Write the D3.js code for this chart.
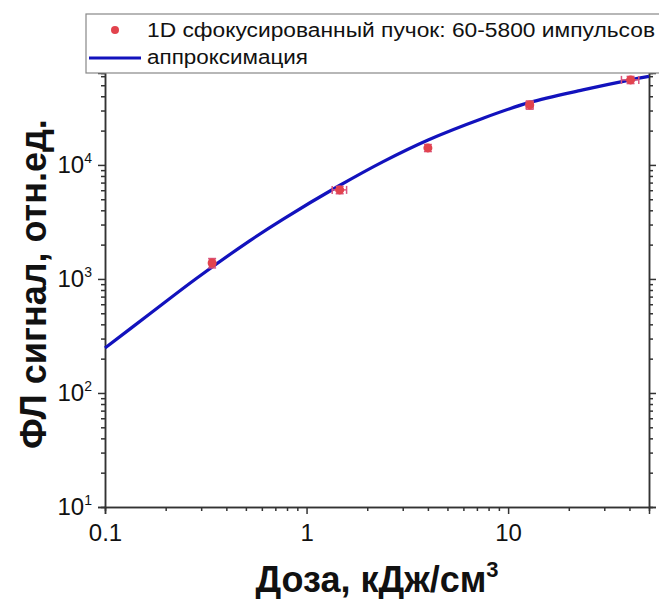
<!DOCTYPE html>
<html>
<head>
<meta charset="utf-8">
<script src="https://cdn.jsdelivr.net/npm/d3@7"></script>
<style>
  body { margin: 0; background: #fff; }
  svg { display: block; font-family: "Liberation Sans", Arial, sans-serif; }
</style>
</head>
<body>
<script>
// measured points (dose in kJ/cm3, signal in arb. units)
const pointDose   = [0.34, 1.46, 4.0, 12.8, 40.5];
const pointSignal = [1380, 6040, 14100, 33600, 55700];
const signalErr   = [130, 450, 1000, 2800, 4000];
const doseErr     = [0.01, 0.12, 0.1, 0.5, 4.0];

// fit curve
const curveDose   = [0.1, 0.167, 0.285, 0.524, 0.766, 1.435, 2.4, 4.01, 7.52, 12.7, 23.5, 40.5, 50];
const curveSignal = [248, 495, 1014, 2170, 3350, 6500, 10700, 16560, 25700, 35200, 45500, 55700, 59700];

const xTicks = [0.1, 1, 10];
const yTicks = [10, 100, 1000, 10000];

const legendLabels = ['1D сфокусированный пучок: 60-5800 импульсов', 'аппроксимация'];

const width  = 659;
const height = 599;
const margin = { top: 73, right: 10, bottom: 92, left: 105 };

const pointColor = '#e2434d';
const errColor   = '#d9557e';
const lineColor  = '#1212bd';
const axisColor  = '#333';

let svg = d3.select('body')
  .append('svg')
    .attr('width', width)
    .attr('height', height);

let xScale = d3.scaleLog()
    .domain([0.1, 50])
    .range([margin.left, width - margin.right]);

let yScale = d3.scaleLog()
    .domain([10, 64000])
    .range([height - margin.bottom, margin.top]);

// minor ticks 2..9 in each decade
function minors(scale) {
  let d = scale.domain();
  let out = [];
  for (let p = Math.floor(Math.log10(d[0])); p <= Math.ceil(Math.log10(d[1])); p++) {
    for (let k = 2; k <= 9; k++) {
      let v = k * Math.pow(10, p);
      if (v > d[0] && v < d[1]) out.push(v);
    }
  }
  return out;
}

function styleAxis(g) {
  g.select('.domain').attr('stroke', axisColor).attr('stroke-width', 1.5);
  g.selectAll('.tick line').attr('stroke', axisColor).attr('stroke-width', 1.5);
}

let x0 = height - margin.bottom;
let xr = width - margin.right;

// bottom axis
svg.append('g')
    .attr('transform', 'translate(0,' + x0 + ')')
    .call(d3.axisBottom(xScale).tickValues(minors(xScale)).tickSize(4).tickFormat(''))
    .call(styleAxis);

svg.append('g')
    .attr('class', 'x axis')
    .attr('transform', 'translate(0,' + x0 + ')')
    .call(d3.axisBottom(xScale).tickValues(xTicks).tickSize(7).tickPadding(10)
      .tickFormat(function (d) { return d3.format('~g')(d); }))
    .call(styleAxis)
    .call(function (g) {
      g.selectAll('text').attr('font-size', 24).attr('fill', '#111').attr('font-family', 'Liberation Sans, Arial, sans-serif');
    });

// left axis
svg.append('g')
    .attr('transform', 'translate(' + margin.left + ',0)')
    .call(d3.axisLeft(yScale).tickValues(minors(yScale)).tickSize(4).tickFormat(''))
    .call(styleAxis);

svg.append('g')
    .attr('class', 'y axis')
    .attr('transform', 'translate(' + margin.left + ',0)')
    .call(d3.axisLeft(yScale).tickValues(yTicks).tickSize(7).tickPadding(6).tickFormat(''))
    .call(styleAxis)
    .call(function (g) {
      g.selectAll('.tick').each(function (d) {
        let t = d3.select(this).append('text')
            .attr('x', -13)
            .attr('dy', '0.32em')
            .attr('text-anchor', 'end')
            .attr('fill', '#111')
            .attr('font-size', 24);
        t.append('tspan').text('10');
        t.append('tspan').attr('font-size', 14).attr('dy', -10).text(Math.round(Math.log10(d)));
      });
    });

// right axis (mirror, no labels)
svg.append('g')
    .attr('transform', 'translate(' + xr + ',0)')
    .call(d3.axisRight(yScale).tickValues(minors(yScale)).tickSize(4).tickFormat(''))
    .call(styleAxis);

svg.append('g')
    .attr('transform', 'translate(' + xr + ',0)')
    .call(d3.axisRight(yScale).tickValues(yTicks).tickSize(7).tickFormat(''))
    .call(styleAxis);

// axis titles
svg.append('text')
    .attr('transform', 'translate(46,' + 284 + ') rotate(-90)')
    .attr('text-anchor', 'middle')
    .attr('font-size', 36)
    .attr('font-weight', 'bold')
    .attr('fill', '#111')
    .text('ФЛ сигнал, отн.ед.');

let xt = svg.append('text')
    .attr('x', (margin.left + xr) / 2)
    .attr('y', 592)
    .attr('text-anchor', 'middle')
    .attr('font-size', 36)
    .attr('font-weight', 'bold')
    .attr('fill', '#111');
xt.append('tspan').text('Доза, кДж/см');
xt.append('tspan').attr('font-size', 22).attr('dy', -15).text('3');

// fit curve
let line = d3.line()
    .x(function (d) { return xScale(d[0]); })
    .y(function (d) { return yScale(d[1]); })
    .curve(d3.curveCatmullRom.alpha(0.5));

svg.append('path')
    .attr('d', line(d3.zip(curveDose, curveSignal)))
    .attr('fill', 'none')
    .attr('stroke', lineColor)
    .attr('stroke-width', 3.2);

// error bars
let points = d3.range(pointDose.length).map(function (i) {
  return { x: pointDose[i], y: pointSignal[i], ey: signalErr[i], ex: doseErr[i] };
});

let eb = svg.append('g')
    .attr('stroke', errColor)
    .attr('stroke-width', 1.5);

points.forEach(function (d) {
  let cx = xScale(d.x), cy = yScale(d.y);
  let y1 = yScale(d.y + d.ey), y2 = yScale(d.y - d.ey);
  let xa = xScale(d.x - d.ex), xb = xScale(d.x + d.ex);
  eb.append('line').attr('x1', cx).attr('x2', cx).attr('y1', y1).attr('y2', y2);
  eb.append('line').attr('x1', cx - 4).attr('x2', cx + 4).attr('y1', y1).attr('y2', y1);
  eb.append('line').attr('x1', cx - 4).attr('x2', cx + 4).attr('y1', y2).attr('y2', y2);
  eb.append('line').attr('x1', xa).attr('x2', xb).attr('y1', cy).attr('y2', cy);
  eb.append('line').attr('x1', xa).attr('x2', xa).attr('y1', cy - 4).attr('y2', cy + 4);
  eb.append('line').attr('x1', xb).attr('x2', xb).attr('y1', cy - 4).attr('y2', cy + 4);
});

svg.append('g')
  .selectAll('circle')
  .data(points)
  .join('circle')
    .attr('cx', function (d) { return xScale(d.x); })
    .attr('cy', function (d) { return yScale(d.y); })
    .attr('r', 4.5)
    .attr('fill', pointColor);

// legend
let lg = svg.append('g');
lg.append('rect')
    .attr('x', 86)
    .attr('y', 14)
    .attr('width', 590)
    .attr('height', 59)
    .attr('fill', '#fff')
    .attr('stroke', '#888')
    .attr('stroke-width', 1.2);

lg.append('circle')
    .attr('cx', 115).attr('cy', 30).attr('r', 4)
    .attr('fill', pointColor);

lg.append('line')
    .attr('x1', 89).attr('x2', 141)
    .attr('y1', 58).attr('y2', 58)
    .attr('stroke', lineColor)
    .attr('stroke-width', 3);

lg.selectAll('text.leg')
  .data(legendLabels)
  .join('text')
    .attr('class', 'leg')
    .attr('x', 147)
    .attr('y', function (d, i) { return 37 + i * 27; })
    .attr('font-size', 20)
    .attr('fill', '#111')
    .attr('textLength', function (d, i) { return i === 0 ? 508 : 161; })
    .attr('lengthAdjust', 'spacingAndGlyphs')
    .text(function (d) { return d; });
</script>
</body>
</html>
